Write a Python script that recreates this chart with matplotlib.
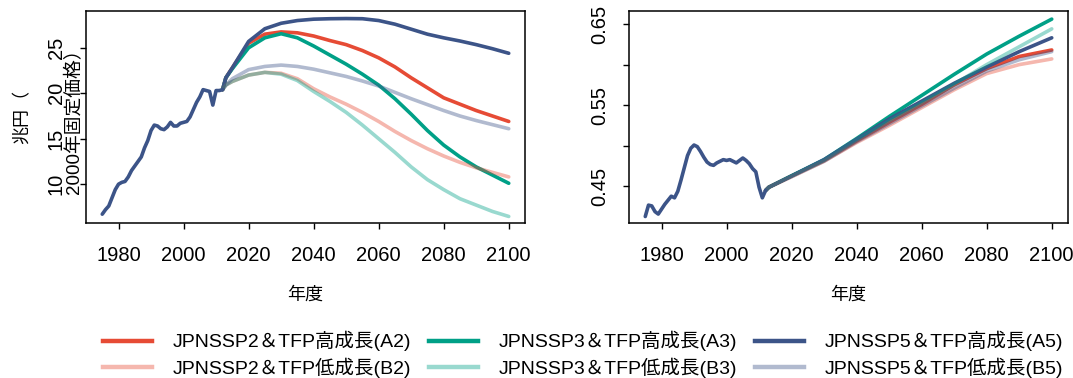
import matplotlib
matplotlib.use("Agg")
import matplotlib.pyplot as plt
from matplotlib import font_manager
from matplotlib.lines import Line2D

# ---------------- data ----------------
hist_years = list(range(1975, 2013))
hist_left = [6.7, 7.2, 7.6, 8.5, 9.4, 10.0, 10.2, 10.3, 10.8, 11.5,
             12.0, 12.5, 13.0, 14.0, 14.8, 15.9, 16.5, 16.4, 16.1, 16.0,
             16.3, 16.8, 16.4, 16.4, 16.7, 16.8, 16.9, 17.4, 18.2, 19.0,
             19.6, 20.4, 20.3, 20.2, 18.7, 20.3, 20.3, 20.4]
hist_right = [0.413, 0.427, 0.426, 0.419, 0.416, 0.422, 0.428, 0.433, 0.438, 0.436,
              0.444, 0.458, 0.473, 0.488, 0.497, 0.501, 0.499, 0.493, 0.486, 0.480,
              0.477, 0.476, 0.479, 0.481, 0.483, 0.482, 0.483, 0.481, 0.479, 0.482,
              0.485, 0.482, 0.478, 0.472, 0.468, 0.449, 0.436, 0.445]

proj_years_left = [2013, 2015, 2020, 2025, 2030, 2035, 2040, 2045, 2050, 2055,
                   2060, 2065, 2070, 2075, 2080, 2085, 2090, 2095, 2100]
A2_left = [21.7, 22.8, 25.5, 26.5, 26.75, 26.65, 26.3, 25.8, 25.35, 24.7,
           23.9, 22.9, 21.7, 20.6, 19.5, 18.8, 18.1, 17.5, 16.9]
A3_left = [21.7, 22.7, 25.0, 26.1, 26.55, 26.1, 25.2, 24.2, 23.2, 22.1,
           20.9, 19.4, 17.7, 15.9, 14.3, 13.0, 11.9, 11.0, 10.1]
A5_left = [21.7, 22.8, 25.7, 27.1, 27.7, 28.0, 28.15, 28.2, 28.22, 28.2,
           28.0, 27.6, 27.05, 26.5, 26.1, 25.75, 25.35, 24.9, 24.4]
B2_left = [20.9, 21.3, 22.0, 22.3, 22.2, 21.6, 20.5, 19.6, 18.8, 17.9,
           16.9, 15.8, 14.8, 13.9, 13.1, 12.4, 11.8, 11.3, 10.8]
B3_left = [20.9, 21.3, 22.0, 22.3, 22.1, 21.4, 20.2, 19.1, 17.9, 16.5,
           15.0, 13.5, 11.9, 10.5, 9.4, 8.4, 7.7, 7.0, 6.45]
B5_left = [20.9, 21.6, 22.6, 22.95, 23.1, 22.95, 22.65, 22.25, 21.85, 21.35,
           20.8, 20.1, 19.4, 18.75, 18.1, 17.5, 17.0, 16.55, 16.1]

proj_years_right = [2013, 2020, 2030, 2040, 2050, 2060, 2070, 2080, 2090, 2100]
A2_right = [0.449, 0.463, 0.482, 0.506, 0.529, 0.551, 0.575, 0.595, 0.610, 0.618]
A3_right = [0.449, 0.463, 0.483, 0.509, 0.536, 0.562, 0.588, 0.613, 0.635, 0.656]
A5_right = [0.449, 0.463, 0.483, 0.508, 0.533, 0.555, 0.577, 0.597, 0.616, 0.633]
B2_right = [0.449, 0.462, 0.481, 0.504, 0.525, 0.547, 0.569, 0.589, 0.600, 0.607]
B3_right = [0.449, 0.463, 0.482, 0.507, 0.531, 0.553, 0.576, 0.600, 0.622, 0.644]
B5_right = [0.449, 0.462, 0.481, 0.505, 0.527, 0.549, 0.571, 0.592, 0.606, 0.616]

labels = ["JPNSSP2＆TFP高成長(A2)", "JPNSSP2＆TFP低成長(B2)",
          "JPNSSP3＆TFP高成長(A3)", "JPNSSP3＆TFP低成長(B3)",
          "JPNSSP5＆TFP高成長(A5)", "JPNSSP5＆TFP低成長(B5)"]
left_xticks = [1980, 2000, 2020, 2040, 2060, 2080, 2100]
left_yticks = [10, 15, 20, 25]
right_yticks = [0.45, 0.50, 0.55, 0.60, 0.65]
right_yticklabels = ["0.45", "", "0.55", "", "0.65"]
xlabel_text = "年度"
ylabel_line1 = "兆円（"
ylabel_line2 = "2000年固定価格）"

# ---------------- style ----------------
RED, TEAL, NAVY = "#E64B35", "#00A087", "#3C5488"
LW = 2.6
ALPHA_B = 0.4

installed = {f.name for f in font_manager.fontManager.ttflist}
latin = "Liberation Sans" if "Liberation Sans" in installed else "DejaVu Sans"
CJK = "Noto Sans CJK JP"
plt.rcParams["font.family"] = [latin, CJK]

fig = plt.figure(figsize=(10.73, 3.78), dpi=100)
W, H = 1073, 378
def ax_rect(x0, x1, y0, y1):
    return [x0 / W, 1 - y1 / H, (x1 - x0) / W, (y1 - y0) / H]

axL = fig.add_axes(ax_rect(86, 525, 11, 223))
axR = fig.add_axes(ax_rect(629, 1068, 11, 223))

def draw(ax, hy, hv, py, series, colors, alphas):
    for vals, c, a in zip(series, colors, alphas):
        ax.plot([hy[-1]] + py, [hv[-1]] + vals, color=c, alpha=a, lw=LW,
                solid_capstyle="round", solid_joinstyle="round")
    ax.plot(hy, hv, color=NAVY, lw=LW, solid_capstyle="round", solid_joinstyle="round")

colors = [RED, TEAL, NAVY, RED, TEAL, NAVY]
alphas = [1, 1, 1, ALPHA_B, ALPHA_B, ALPHA_B]
draw(axL, hist_years, hist_left, proj_years_left,
     [A2_left, A3_left, A5_left, B2_left, B3_left, B5_left], colors, alphas)
draw(axR, hist_years, hist_right, proj_years_right,
     [A2_right, A3_right, A5_right, B2_right, B3_right, B5_right], colors, alphas)

for ax in (axL, axR):
    ax.set_xlim(1970, 2105)
    ax.set_xticks(left_xticks)
    for s in ax.spines.values():
        s.set_linewidth(1.1)
        s.set_color("black")
    ax.tick_params(axis="both", direction="out", length=4.5, width=1.0,
                   labelsize=14.5, colors="black")
    ax.tick_params(axis="x", pad=12)
    ax.tick_params(axis="y", pad=10)
    ax.set_xlabel(xlabel_text, fontsize=13, family=[CJK], labelpad=15)

axL.set_ylim(5.73, 29.05)
axL.set_yticks(left_yticks)
axL.set_yticklabels([str(v) for v in left_yticks], rotation=90, va="center")
axR.set_ylim(0.405, 0.666)
axR.set_yticks(right_yticks)
axR.set_yticklabels(right_yticklabels, rotation=90, va="center")

ycen = 1 - 117 / H
fig.text(22 / W, ycen, ylabel_line1, rotation=90, ha="center", va="center",
         fontsize=13, family=[CJK])
fig.text(74 / W, ycen, ylabel_line2, rotation=90, ha="center", va="center",
         fontsize=13.5, family=[latin, CJK])

handles = [Line2D([], [], color=c, alpha=a, lw=LW + 0.6) for c, a in
           zip([RED, RED, TEAL, TEAL, NAVY, NAVY], [1, ALPHA_B] * 3)]
fig.legend(handles, labels, ncol=3, loc="center", bbox_to_anchor=(583 / W, 1 - 354.5 / H),
           frameon=False, prop={"family": [latin, CJK], "size": 14},
           handlelength=2.5, handletextpad=1.05, columnspacing=0.95,
           labelspacing=0.32, borderaxespad=0)

fig.savefig("out.png", dpi=100)
